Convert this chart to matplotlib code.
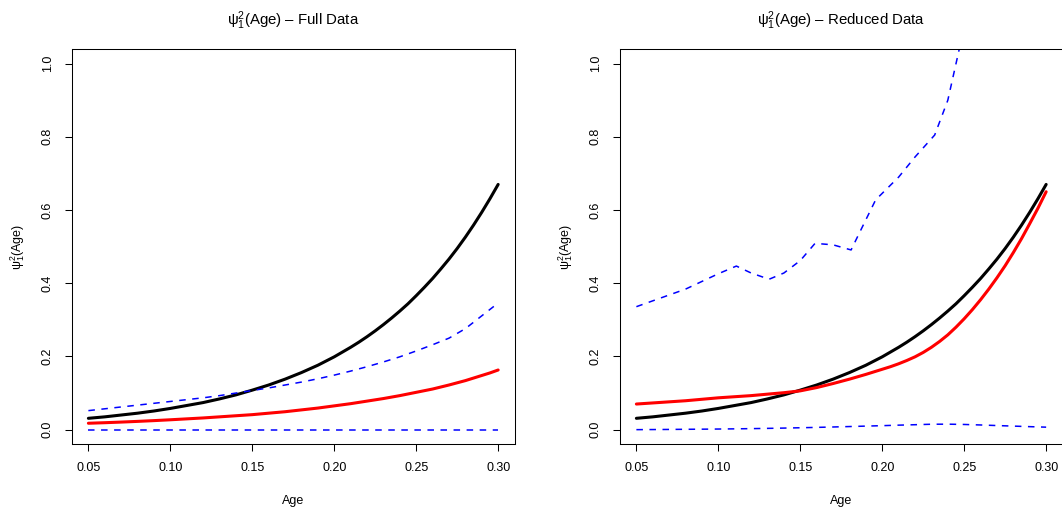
import matplotlib
matplotlib.use("Agg")
import matplotlib.pyplot as plt

plt.rcParams['font.family'] = ['Liberation Sans', 'DejaVu Sans']
plt.rcParams['mathtext.fontset'] = 'custom'
plt.rcParams['mathtext.rm'] = 'Liberation Sans'
plt.rcParams['mathtext.it'] = 'Liberation Sans'
plt.rcParams['lines.scale_dashes'] = False

# age grid for the solid curves (finer where they bend fastest)
age = [0.05, 0.06, 0.07, 0.08, 0.09, 0.10, 0.11, 0.12, 0.13, 0.14, 0.15, 0.16, 0.17,
       0.18, 0.19, 0.20, 0.205, 0.21, 0.215, 0.22, 0.225, 0.23, 0.235, 0.24, 0.245,
       0.25, 0.255, 0.26, 0.265, 0.27, 0.275, 0.28, 0.285, 0.29, 0.295, 0.30]

# true function (black), same in both panels
true_psi = [0.031, 0.035, 0.040, 0.045, 0.051, 0.058, 0.066, 0.074, 0.084, 0.095, 0.108,
            0.122, 0.138, 0.156, 0.176, 0.199, 0.212, 0.225, 0.239, 0.254, 0.270, 0.287,
            0.305, 0.324, 0.344, 0.366, 0.389, 0.413, 0.439, 0.466, 0.495, 0.526, 0.559,
            0.594, 0.631, 0.670]

# estimates (red)
full_est = [0.0175, 0.019, 0.0207, 0.0226, 0.0247, 0.027, 0.0295, 0.032, 0.035, 0.038,
            0.041, 0.045, 0.049, 0.054, 0.059, 0.065, 0.068, 0.071, 0.0745, 0.078,
            0.0815, 0.085, 0.089, 0.093, 0.0975, 0.102, 0.1065, 0.111, 0.1165, 0.122,
            0.128, 0.134, 0.141, 0.148, 0.155, 0.163]
red_est = [0.070, 0.073, 0.076, 0.079, 0.083, 0.087, 0.090, 0.093, 0.097, 0.101, 0.106,
           0.115, 0.126, 0.138, 0.151, 0.165, 0.172, 0.180, 0.189, 0.199, 0.211, 0.225,
           0.241, 0.259, 0.280, 0.303, 0.328, 0.355, 0.384, 0.415, 0.448, 0.484, 0.522,
           0.563, 0.605, 0.650]

# age grid for the bands (blue dashed)
age_band = [0.05, 0.06, 0.07, 0.08, 0.09, 0.10, 0.11, 0.12, 0.13, 0.14, 0.15, 0.16,
            0.17, 0.18, 0.19, 0.20, 0.21, 0.22, 0.23, 0.24, 0.25, 0.26, 0.27, 0.28,
            0.29, 0.30]
full_upper = [0.052, 0.057, 0.062, 0.067, 0.072, 0.077, 0.082, 0.087, 0.093, 0.100,
              0.107, 0.114, 0.122, 0.130, 0.139, 0.149, 0.160, 0.172, 0.185, 0.199,
              0.215, 0.232, 0.250, 0.276, 0.311, 0.346]
full_lower = [0.0] * 26
red_lower = [0.0, 0.0003, 0.0006, 0.001, 0.0013, 0.0017, 0.0022, 0.0028, 0.0035, 0.0043,
             0.0052, 0.0062, 0.0073, 0.0085, 0.0097, 0.0109, 0.0123, 0.0135, 0.0148,
             0.0150, 0.0142, 0.0128, 0.0112, 0.0097, 0.0082, 0.0068]

# reduced-data upper band runs off the top of the panel
red_upper_age = [0.05, 0.06, 0.07, 0.08, 0.09, 0.10, 0.111, 0.12, 0.131, 0.14, 0.15,
                 0.159, 0.17, 0.181, 0.186, 0.196, 0.21, 0.22, 0.232, 0.24, 0.25, 0.26]
red_upper = [0.336, 0.352, 0.368, 0.384, 0.405, 0.426, 0.447, 0.428, 0.411, 0.428, 0.462,
             0.509, 0.505, 0.491, 0.537, 0.628, 0.690, 0.745, 0.805, 0.900, 1.10, 1.30]

xticks = [0.05, 0.10, 0.15, 0.20, 0.25, 0.30]
yticks = [0.0, 0.2, 0.4, 0.6, 0.8, 1.0]

fig = plt.figure(figsize=(10.62, 5.08), dpi=100)
ax1 = fig.add_axes([0.0678, 0.1254, 0.4167, 0.7781])
ax2 = fig.add_axes([0.5838, 0.1254, 0.4167, 0.7781])

dash = (0, (4.7, 4.7))

panels = [
    (ax1, 'Full Data', full_est, age_band, full_upper, full_lower),
    (ax2, 'Reduced Data', red_est, red_upper_age, red_upper, red_lower),
]

for ax, name, est, up_x, up, low in panels:
    ax.plot(age, true_psi, color='black', lw=2.2, solid_capstyle='round')
    ax.plot(age, est, color='red', lw=2.2, solid_capstyle='round')
    ax.plot(up_x, up, color='blue', lw=1.1, linestyle=dash)
    ax.plot(age_band, low, color='blue', lw=1.1, linestyle=dash)

    ax.set_xlim(0.04, 0.31)
    ax.set_ylim(-0.04, 1.04)
    ax.set_xticks(xticks)
    ax.set_xticklabels([f'{t:.2f}' for t in xticks])
    ax.set_yticks(yticks)
    ax.set_yticklabels([f'{t:.1f}' for t in yticks], rotation=90, va='center')
    ax.tick_params(direction='out', length=5, width=0.75, labelsize=9, pad=8,
                   color='black')
    for sp in ax.spines.values():
        sp.set_linewidth(0.75)
    ax.set_xlabel('Age', fontsize=9, labelpad=15)
    ax.set_ylabel(r'$\mathrm{\psi}_1^2$(Age)', fontsize=9, labelpad=11)
    ax.set_title(r'$\mathrm{\psi}_1^2$(Age) – ' + name, fontsize=10.8, pad=17)

fig.savefig('out.png', dpi=100)
